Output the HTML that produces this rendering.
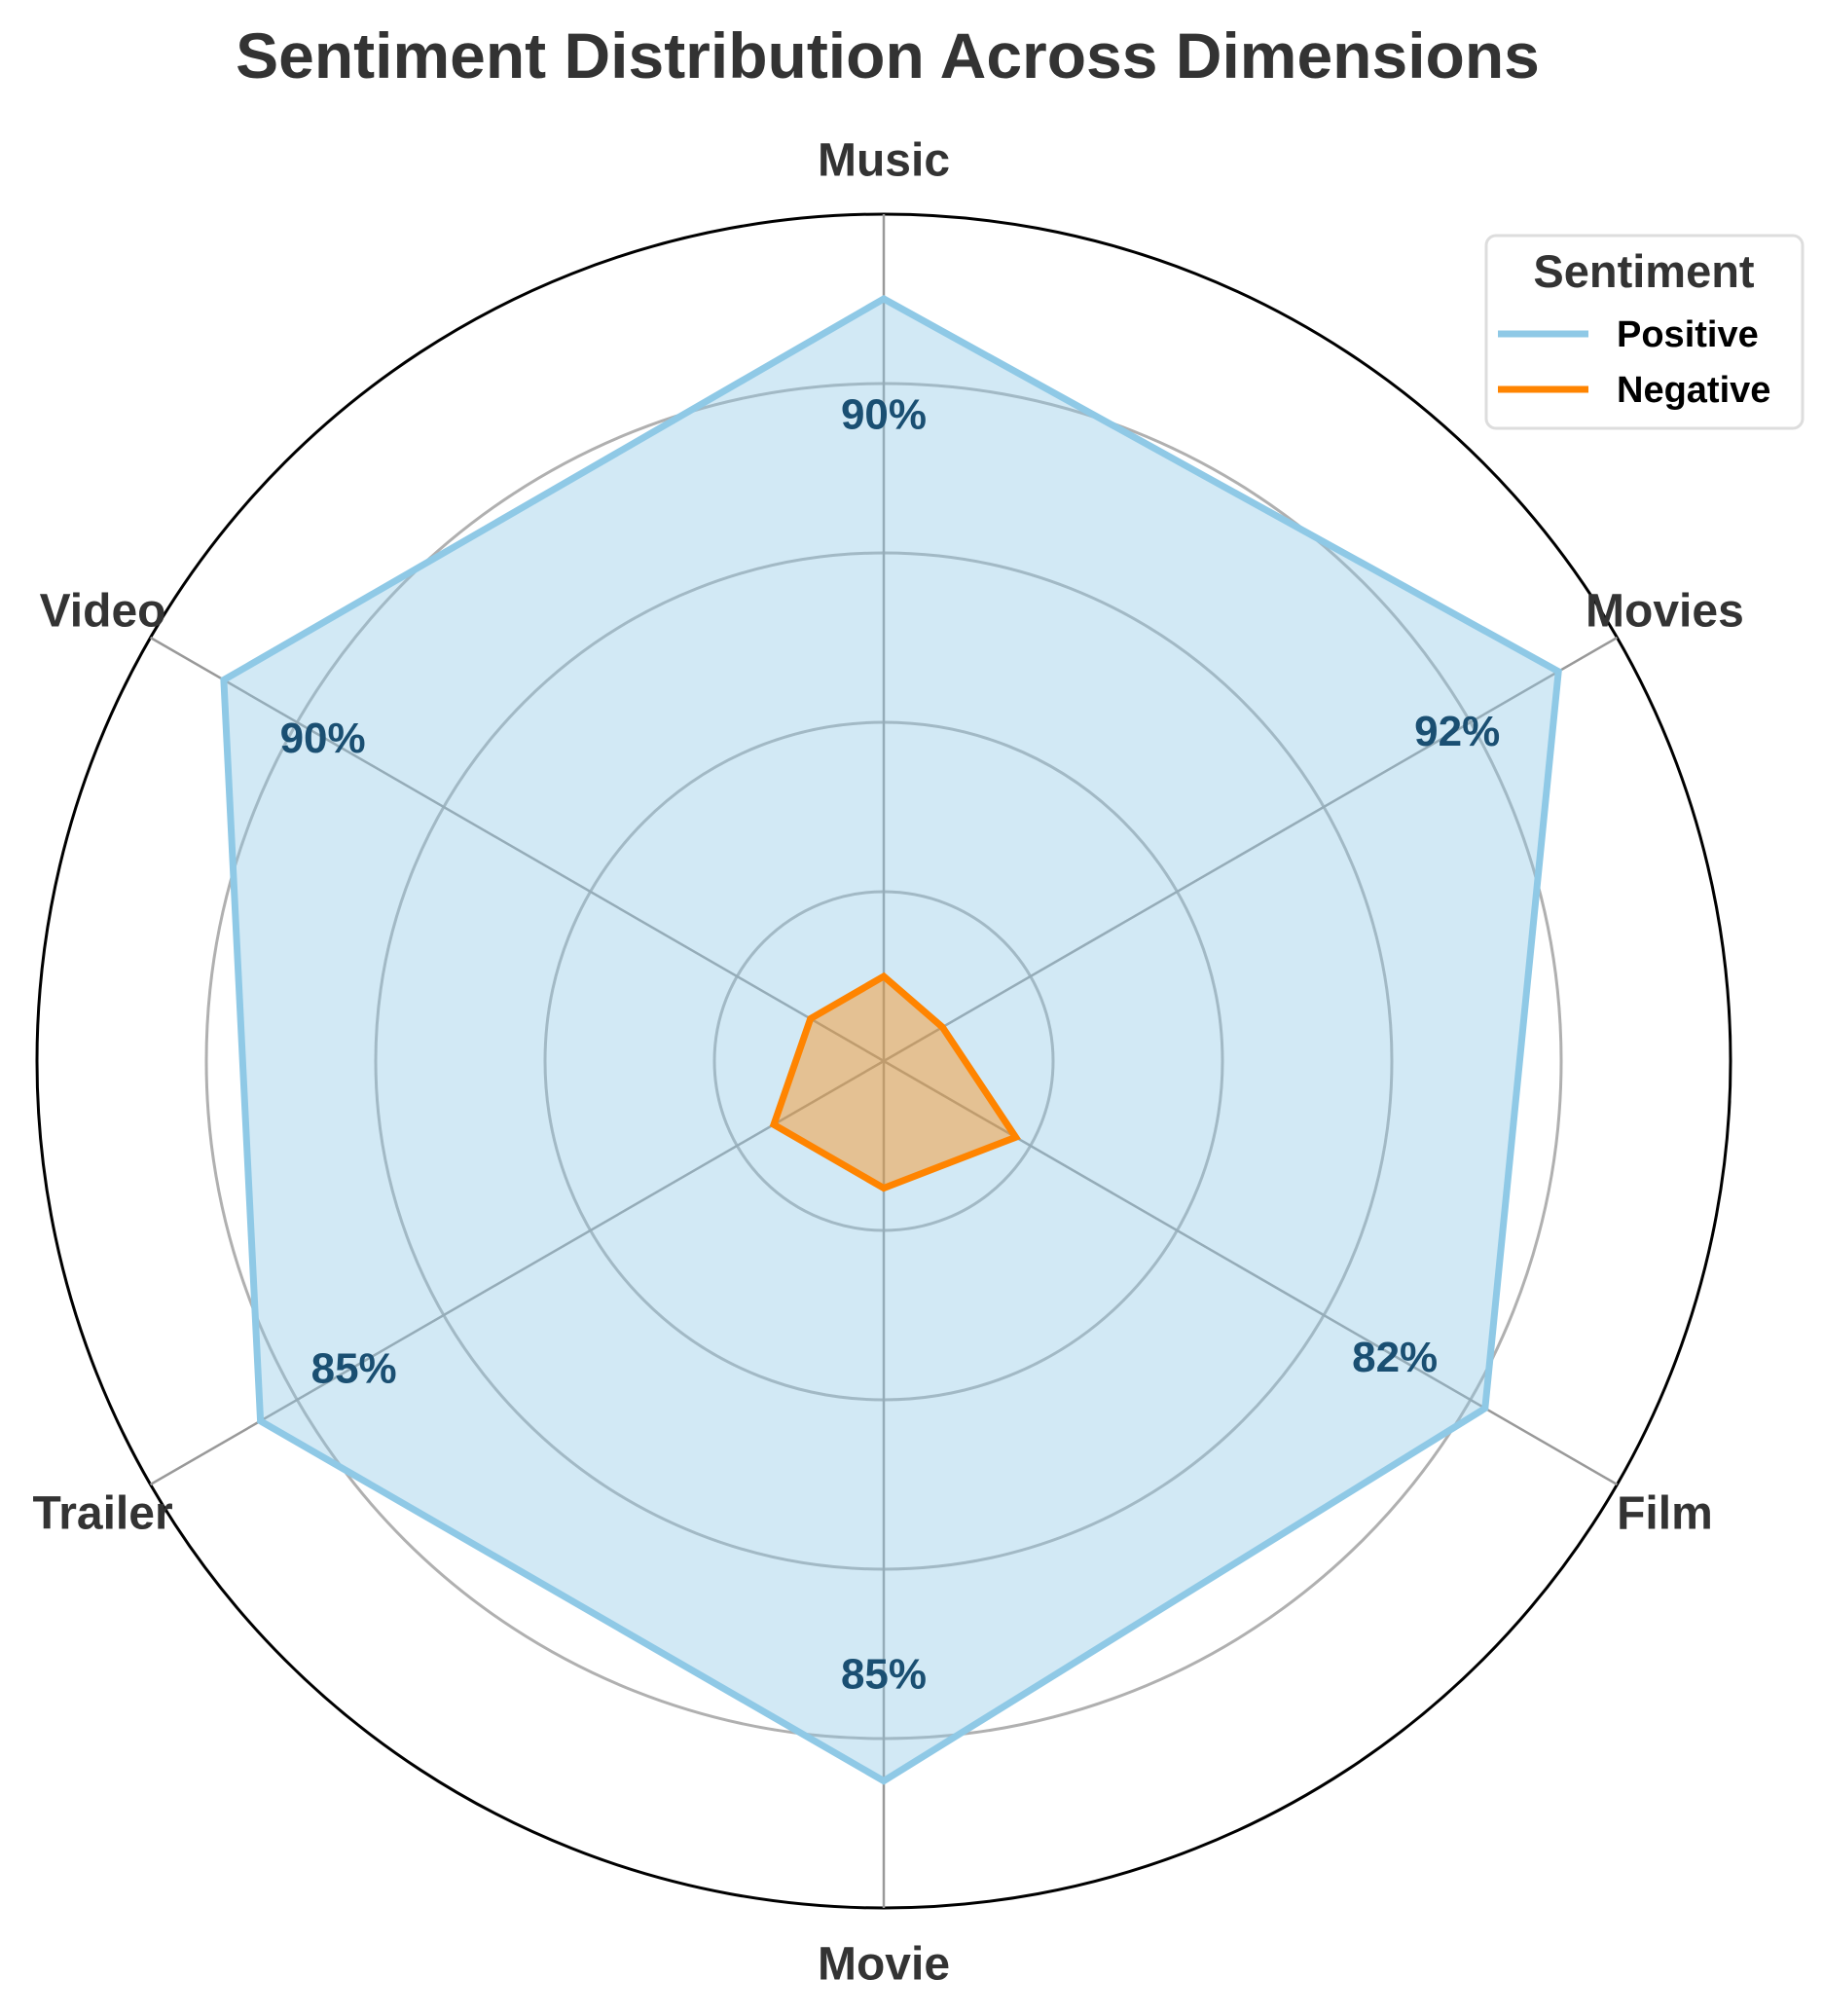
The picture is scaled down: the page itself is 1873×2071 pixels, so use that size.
<!DOCTYPE html>
<html><head><meta charset="utf-8"><style>
html,body{margin:0;padding:0;background:#fff;}
svg{display:block;font-family:"Liberation Sans",Arial,sans-serif;}
</style></head><body>
<svg id="chart" width="1873" height="2071" viewBox="0 0 1873 2071">
<text x="912" y="80" text-anchor="middle" font-size="66" font-weight="bold" fill="#333">Sentiment Distribution Across Dimensions</text>
<g id="grid"></g>
<g id="series"></g>
<g id="labels"></g>
<g>
<rect x="1527" y="242" width="325" height="198" rx="10" fill="#fff" stroke="#ddd" stroke-width="3"/>
<text x="1689" y="295" text-anchor="middle" font-size="47" font-weight="bold" fill="#333">Sentiment</text>
<line x1="1539" y1="343" x2="1632" y2="343" stroke="#8fc9e6" stroke-width="7"/>
<text x="1661" y="356" font-size="38" font-weight="bold" fill="#000">Positive</text>
<line x1="1539" y1="400" x2="1632" y2="400" stroke="#ff8400" stroke-width="7"/>
<text x="1661" y="413" font-size="38" font-weight="bold" fill="#000">Negative</text>
</g>
</svg>
<script>
const categories = ["Music","Movies","Film","Movie","Trailer","Video"];
const positiveValues = [90,92,82,85,85,90];
const negativeValues = [10,8,18,15,15,10];
const ringTicks = [20,40,60,80,100];
const rMax = 100;

const NS = "http://www.w3.org/2000/svg";
const cx = 908, cy = 1090, R = 870;
function ang(i){ return i*2*Math.PI/categories.length; }
function rScale(v){ return v/rMax*R; }
function px(i,v){ return cx + rScale(v)*Math.sin(ang(i)); }
function py(i,v){ return cy - rScale(v)*Math.cos(ang(i)); }
function mk(tag, attrs, parent){
  const el = document.createElementNS(NS, tag);
  for (const k in attrs) el.setAttribute(k, attrs[k]);
  parent.appendChild(el);
  return el;
}
const grid = document.getElementById("grid");
ringTicks.forEach((t) => {
  const c = mk("circle", {cx:cx, cy:cy, r:rScale(t), fill:"none",
    stroke: t===rMax ? "#000" : "#b0b0b0", "stroke-width": 3}, grid);
  
  
});
categories.forEach((c, i) => {
  const l = mk("line", {x1:cx, y1:cy, x2:px(i,rMax), y2:py(i,rMax), stroke:"#999", "stroke-width":2.5}, grid);
  
  
});
const series = document.getElementById("series");
function poly(vals, fill, stroke, name){
  const pts = vals.map((v,i) => px(i,v).toFixed(1) + "," + py(i,v).toFixed(1)).join(" ");
  const p = mk("polygon", {points:pts, fill:fill, "fill-opacity":0.4, stroke:stroke, "stroke-width":7, "stroke-linejoin":"miter"}, series);
  
  
}
poly(positiveValues, "#8fc9e6", "#8fc9e6", "positive-series");
poly(negativeValues, "#ff8400", "#ff8400", "negative-series");

const labels = document.getElementById("labels");
categories.forEach((c, i) => {
  const t = mk("text", {x:px(i,106.5), y:py(i,106.5)+17, "text-anchor":"middle", "font-size":48, "font-weight":"bold", fill:"#333"}, labels);
  t.textContent = c;
  
  
});
positiveValues.forEach((v, i) => {
  const t = mk("text", {x:px(i,v*0.85), y:py(i,v*0.85)+16, "text-anchor":"middle", "font-size":44, "font-weight":"bold", fill:"#1a4f72"}, labels);
  t.textContent = v + "%";
  
  
});
</script>
</body></html>
